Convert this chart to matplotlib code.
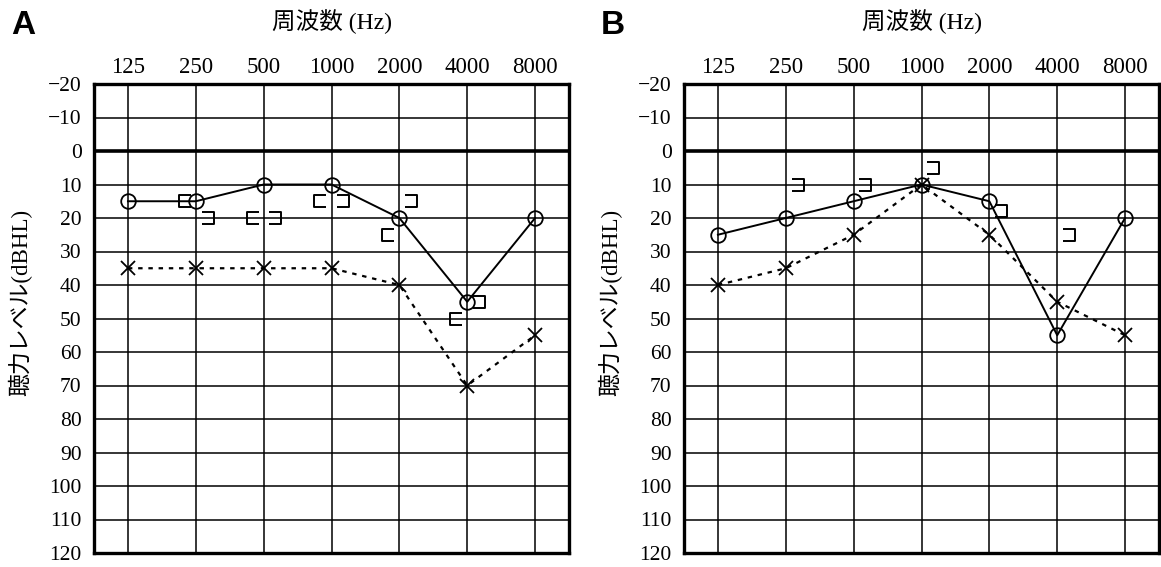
import matplotlib
matplotlib.use('Agg')
import matplotlib.pyplot as plt
from matplotlib.path import Path
from matplotlib import transforms

# Data
freqs = ['125', '250', '500', '1000', '2000', '4000', '8000']
db_ticks = list(range(-20, 121, 10))

# A: right ear air (O), left ear air (X), bone conduction [ and ]
a_right_air = [15, 15, 10, 10, 20, 45, 20]
a_left_air = [35, 35, 35, 35, 40, 70, 55]
a_right_bone_f = ['250', '500', '1000', '2000', '4000']
a_right_bone = [15, 20, 15, 25, 50]
a_left_bone_f = ['250', '500', '1000', '2000', '4000']
a_left_bone = [20, 20, 15, 15, 45]

# B
b_right_air = [25, 20, 15, 10, 15, 55, 20]
b_left_air = [40, 35, 25, 10, 25, 45, 55]
b_right_bone_f = []
b_right_bone = []
b_left_bone_f = ['250', '500', '1000', '2000', '4000']
b_left_bone = [10, 10, 5, 18, 25]

SERIF_JP = ['Liberation Serif', 'Noto Sans CJK JP']

# bracket markers
codes = [Path.MOVETO, Path.LINETO, Path.LINETO, Path.LINETO]
lbr = Path([(0.5, 0.5), (-0.5, 0.5), (-0.5, -0.5), (0.5, -0.5)], codes)
rbr = Path([(-0.5, 0.5), (0.5, 0.5), (0.5, -0.5), (-0.5, -0.5)], codes)

fig = plt.figure(figsize=(11.61, 5.67), dpi=100)
W, H = 1161, 567


def audiogram(left_px, letter, right_air, left_air, rb_f, rb, lb_f, lb):
    ax = fig.add_axes([left_px / W, 1 - 553 / H, 475 / W, 469 / H])
    x = list(range(len(freqs)))

    ax.set_xlim(-0.5, len(freqs) - 0.5)
    ax.set_ylim(120, -20)
    ax.set_xticks(x)
    ax.set_xticklabels(freqs)
    ax.set_yticks(db_ticks)
    ax.set_yticklabels([str(v).replace('-', '\u2212') for v in db_ticks])
    ax.xaxis.tick_top()
    ax.tick_params(length=0)
    ax.tick_params(axis='x', pad=4, labelsize=16.5)
    ax.tick_params(axis='y', pad=9, labelsize=15.5)
    for lab in ax.get_xticklabels() + ax.get_yticklabels():
        lab.set_family('Liberation Serif')
    ax.grid(True, color='black', linewidth=1.1)
    ax.set_axisbelow(True)
    ax.axhline(0, color='black', linewidth=2.6, zorder=1)
    for s in ax.spines.values():
        s.set_linewidth(2.4)

    ax.plot(x, right_air, color='black', linewidth=1.4, marker='o',
            markersize=10.5, markerfacecolor='none', markeredgewidth=1.3, zorder=3)
    ax.plot(x, left_air, color='black', linewidth=1.6, linestyle=(0, (2, 2.6)),
            marker='x', markersize=10, markeredgewidth=1.3, zorder=4)

    to_left = transforms.offset_copy(ax.transData, fig=fig, x=-8, y=0, units='points')
    to_right = transforms.offset_copy(ax.transData, fig=fig, x=8.5, y=0, units='points')
    if rb:
        ax.plot([freqs.index(f) for f in rb_f], rb, linestyle='none', marker=lbr,
                markersize=8, markerfacecolor='none', markeredgecolor='black',
                markeredgewidth=1.4, transform=to_left, zorder=3)
    if lb:
        ax.plot([freqs.index(f) for f in lb_f], lb, linestyle='none', marker=rbr,
                markersize=8, markerfacecolor='none', markeredgecolor='black',
                markeredgewidth=1.4, transform=to_right, zorder=3)

    ax.text(-0.156, 0.535, '聴力レベル(dBHL)', transform=ax.transAxes, rotation=90,
            ha='center', va='center', fontsize=16.5, family=SERIF_JP)
    ax.text(0.5, 1 + 62 / 469, '周波数 (Hz)', transform=ax.transAxes,
            ha='center', va='center', fontsize=17, family=SERIF_JP)
    fig.text((left_px - 71) / W, 1 - 26 / H, letter, ha='center', va='center',
             fontsize=24, fontweight='bold', family='Liberation Sans')
    return ax


audiogram(94, 'A', a_right_air, a_left_air, a_right_bone_f, a_right_bone,
          a_left_bone_f, a_left_bone)
audiogram(684, 'B', b_right_air, b_left_air, b_right_bone_f, b_right_bone,
          b_left_bone_f, b_left_bone)

fig.savefig('out.png', dpi=100)
